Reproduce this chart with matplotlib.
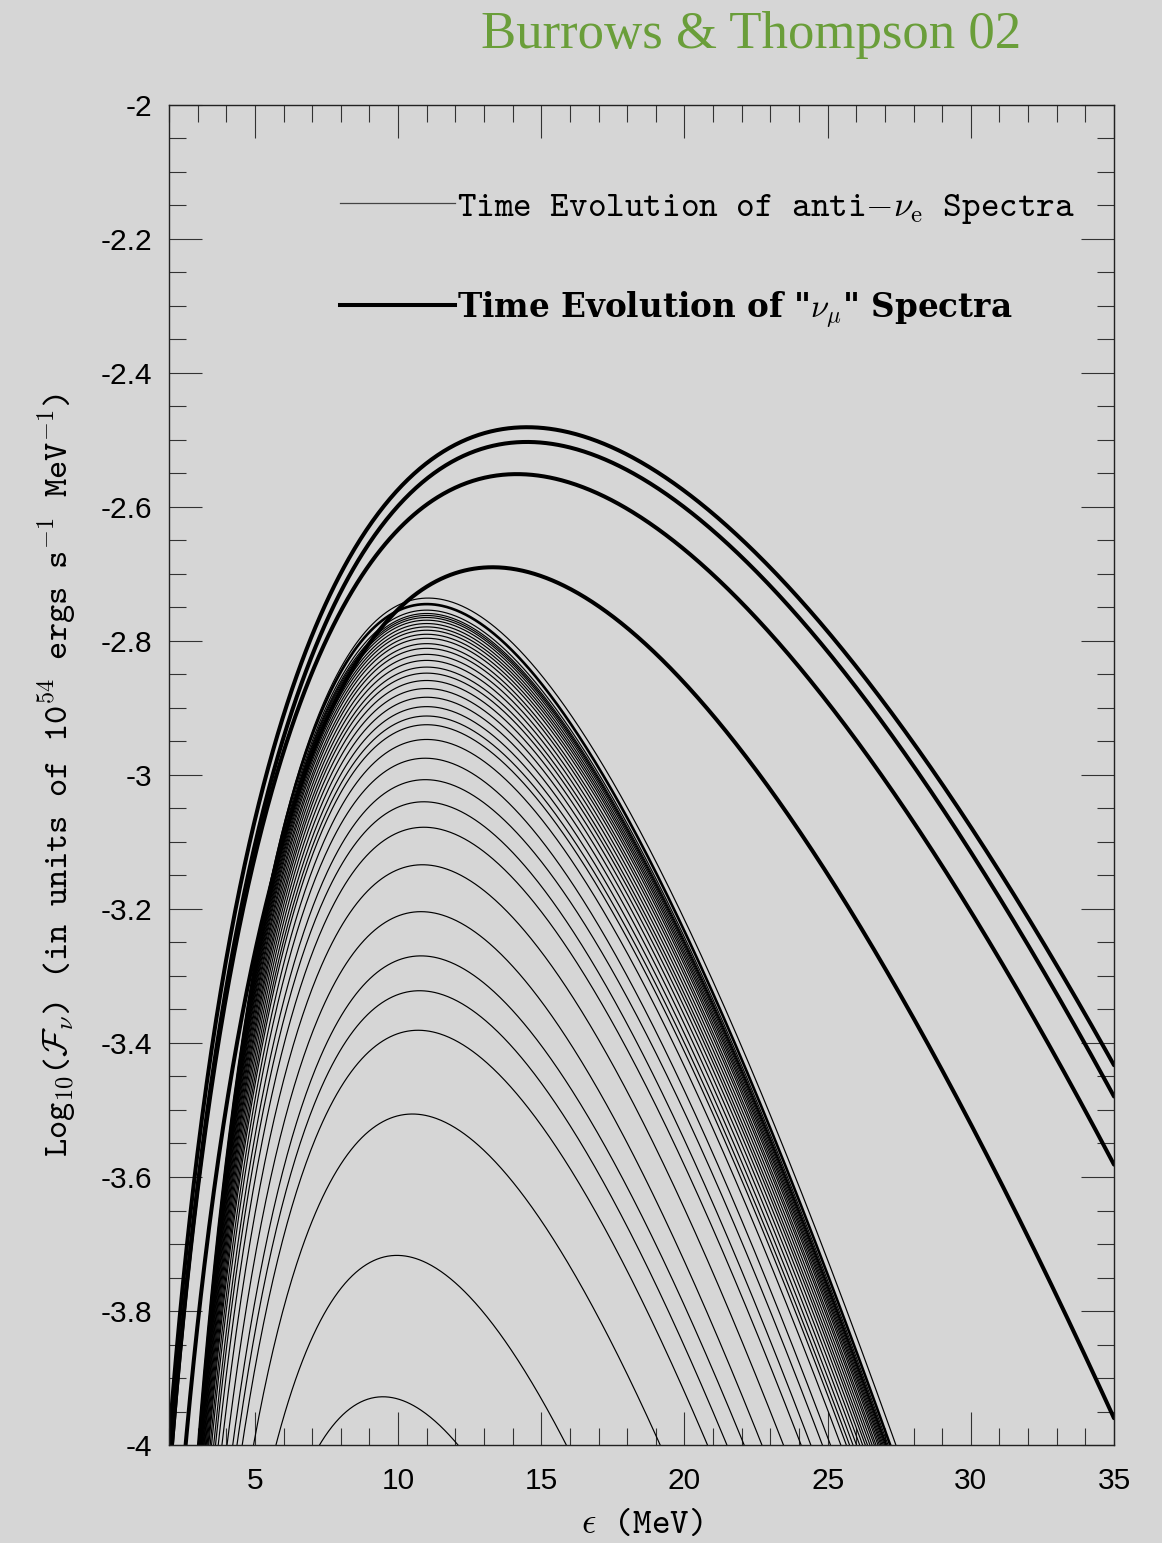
import numpy as np
import matplotlib
matplotlib.use('Agg')
import matplotlib.pyplot as plt
from matplotlib.lines import Line2D
from matplotlib.font_manager import FontProperties
from matplotlib.ticker import MultipleLocator, FuncFormatter

# anti-nu_e spectra (thin): peak log10 value and peak energy (MeV)
nue_peak_logf = [-2.736, -2.754, -2.759, -2.762, -2.765, -2.769, -2.774, -2.779,
                 -2.784, -2.790, -2.796, -2.804, -2.811, -2.820, -2.829, -2.839,
                 -2.848, -2.859, -2.871, -2.884, -2.898, -2.912, -2.925, -2.947,
                 -2.975, -3.007, -3.040, -3.078, -3.134, -3.204, -3.270, -3.322,
                 -3.381, -3.506, -3.717, -3.928]
nue_peak_e = [11.05, 11.0, 11.0, 11.0, 11.0, 11.0, 11.0, 11.0,
              11.0, 11.0, 11.0, 11.0, 11.0, 11.0, 11.0, 11.0,
              11.0, 11.0, 11.0, 11.0, 11.0, 11.0, 11.0, 11.0,
              10.95, 10.95, 10.9, 10.9, 10.85, 10.8, 10.8, 10.75,
              10.7, 10.5, 9.96, 9.47]
nue_alpha = 5.1   # spectral width read from the -4 crossings

# "nu_mu" spectra (thick): peak energy, peak log10 value, width and pinching
numu_peak_e = [14.5, 14.5, 14.15, 13.3, 11.0]
numu_peak_logf = [-2.481, -2.503, -2.551, -2.690, -2.745]
numu_alpha = [2.70, 2.77, 2.73, 3.20, 5.1]
numu_pinch = [1.35, 1.35, 1.35, 1.25, 1.0]
numu_lw = [2.9, 2.9, 2.9, 2.9, 1.9]

x_ticks = [5, 10, 15, 20, 25, 30, 35]
y_ticks = [-2, -2.2, -2.4, -2.6, -2.8, -3, -3.2, -3.4, -3.6, -3.8, -4]


def log_spectrum(e, e_peak, logf_peak, alpha, pinch=1.0):
    u = e / e_peak
    g = alpha * np.log(u) - alpha / pinch * (u ** pinch - 1.0)
    return logf_peak + g / np.log(10.0)


plt.rcParams['axes.unicode_minus'] = False
plt.rcParams['mathtext.fontset'] = 'cm'

bg = '#d6d6d6'
fig = plt.figure(figsize=(11.62, 15.43), dpi=100, facecolor=bg)
ax = fig.add_axes([0.1454, 0.0635, 0.8133, 0.8685], facecolor=bg)

e = np.linspace(2, 35, 800)
for pk, ep in zip(nue_peak_logf, nue_peak_e):
    ax.plot(e, log_spectrum(e, ep, pk, nue_alpha), color='black', lw=0.85)
for ep, pk, a, c, lw in zip(numu_peak_e, numu_peak_logf, numu_alpha, numu_pinch, numu_lw):
    ax.plot(e, log_spectrum(e, ep, pk, a, c), color='black', lw=lw,
            solid_capstyle='round')

ax.set_xlim(2, 35)
ax.set_ylim(-4, -2)
ax.set_xticks(x_ticks)
ax.set_yticks(y_ticks)
ax.xaxis.set_minor_locator(MultipleLocator(1))
ax.yaxis.set_minor_locator(MultipleLocator(0.05))
ax.yaxis.set_major_formatter(FuncFormatter(lambda v, p: '%g' % v))
ax.tick_params(which='both', direction='in', top=True, right=True,
               color='#333333', width=0.8, labelsize=21.5)
ax.tick_params(which='major', length=24)
ax.tick_params(which='minor', length=12)
ax.tick_params(axis='y', pad=12)
ax.tick_params(axis='x', pad=16)
for lab in ax.get_xticklabels() + ax.get_yticklabels():
    lab.set_fontfamily('Liberation Sans')
for sp in ax.spines.values():
    sp.set_linewidth(1.0)
    sp.set_color('#222222')

tt = FontProperties(family='cmtt10', size=25.5)
ax.set_xlabel(r'$\epsilon$ (MeV)', fontproperties=tt, labelpad=10)
ax.set_ylabel(r'Log$_{10}$($\mathcal{F}_\nu$) (in units of 10$^{54}$ ergs s$^{-1}$ MeV$^{-1}$)',
              fontproperties=FontProperties(family='cmtt10', size=25), labelpad=16)

handles = [Line2D([], [], color='#444444', lw=0.9),
           Line2D([], [], color='black', lw=2.9)]
labels = [r'Time Evolution of anti$-\nu_{\rm e}$ Spectra',
          r'Time Evolution of "$\boldsymbol{\nu_\mu}$" Spectra']
leg = ax.legend(handles, labels, loc='upper left',
                bbox_to_anchor=(340 / 1162, 1 - 191 / 1543),
                bbox_transform=fig.transFigure, frameon=False,
                prop=tt, handlelength=3.25, handletextpad=0.05,
                borderpad=0, borderaxespad=0, labelspacing=1.8)
leg.get_texts()[1].set_fontproperties(FontProperties(family='DejaVu Serif',
                                                     weight='bold', size=23.5))

fig.text(751 / 1162, 1 - 35 / 1543, 'Burrows & Thompson 02', color='#6a9e3a',
         family='Liberation Serif', fontsize=38, ha='center', va='center')

fig.savefig('out.png', dpi=100, facecolor=bg)
